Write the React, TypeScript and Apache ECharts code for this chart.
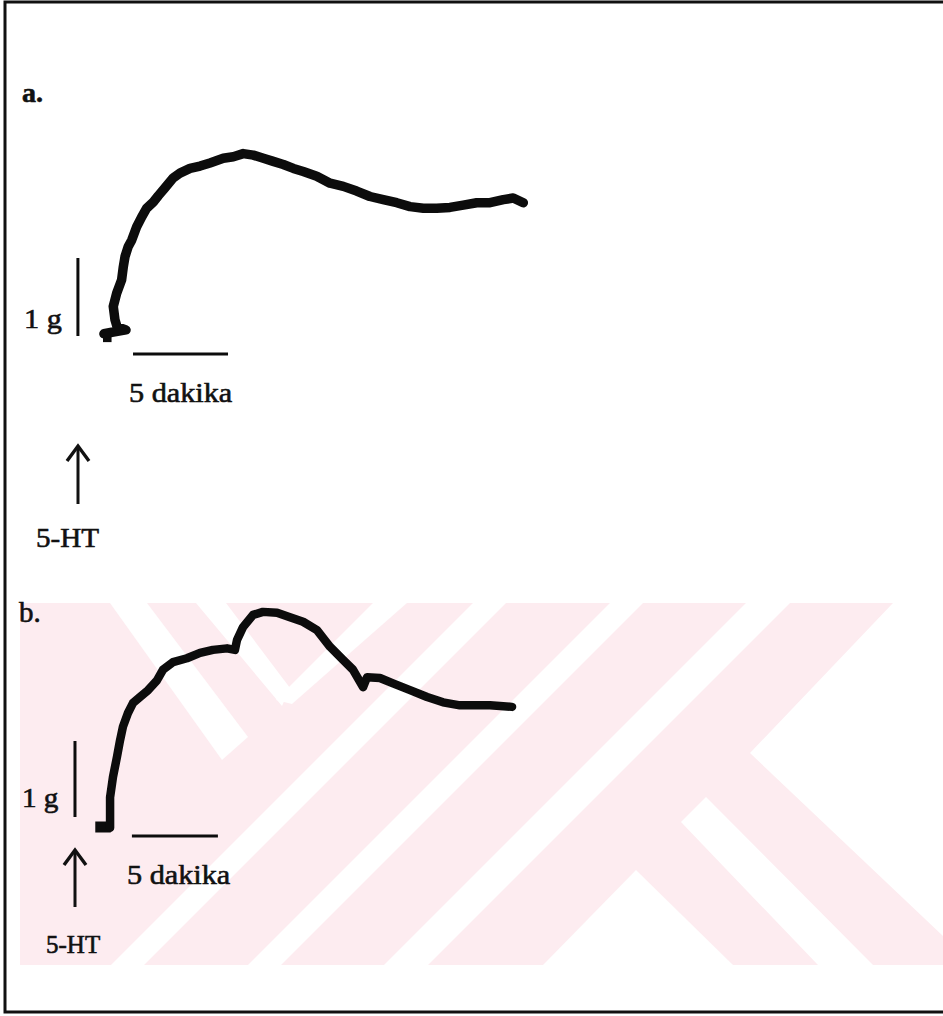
import React, { useEffect, useRef } from "react";
import * as echarts from "echarts";

// Isometric tension recordings after 5-HT: time in minutes, tension in grams.
const traceA_t = [0.05, 0.47, 1.21, 0.74, 0.63, 0.54, 0.72, 0.98, 1.07, 1.16, 1.33, 1.51, 1.77, 2.04, 2.3, 2.65, 2.91, 3.26, 3.7, 4.05, 4.58, 5.11, 5.63, 6.33, 6.86, 7.38, 7.91, 8.44, 8.96, 9.49, 10.02, 10.54, 11.25, 11.95, 12.65, 13.35, 14.05, 14.75, 15.46, 16.16, 16.86, 17.56, 18.26, 18.96, 19.67, 20.37, 21.07, 21.59, 22.12];
const traceA_g = [-0.01, 0.01, 0.04, 0.08, 0.17, 0.34, 0.51, 0.68, 0.85, 0.98, 1.11, 1.19, 1.36, 1.49, 1.6, 1.68, 1.76, 1.86, 1.99, 2.05, 2.11, 2.14, 2.18, 2.24, 2.26, 2.3, 2.28, 2.24, 2.2, 2.16, 2.11, 2.07, 2.01, 1.92, 1.88, 1.82, 1.75, 1.71, 1.67, 1.62, 1.6, 1.6, 1.61, 1.64, 1.67, 1.67, 1.71, 1.73, 1.67];

const traceB_t = [0.76, 0.76, 0.93, 1.16, 1.34, 1.51, 1.8, 2.09, 2.5, 2.97, 3.49, 3.84, 4.42, 5.23, 5.99, 6.74, 7.56, 8.02, 8.14, 8.49, 9.07, 9.65, 10.47, 11.22, 11.98, 12.79, 13.55, 14.3, 14.88, 15.47, 15.7, 16.45, 17.21, 18.2, 19.19, 20.12, 21.1, 22.09, 22.85, 24.13];
const traceB_g = [0.03, 0.43, 0.7, 0.96, 1.18, 1.36, 1.54, 1.67, 1.75, 1.84, 1.97, 2.11, 2.21, 2.26, 2.33, 2.37, 2.39, 2.37, 2.5, 2.67, 2.83, 2.87, 2.86, 2.8, 2.74, 2.63, 2.41, 2.24, 2.11, 1.88, 2.01, 2.0, 1.93, 1.84, 1.75, 1.68, 1.64, 1.64, 1.64, 1.62];

// Baseline blocks at the moment of 5-HT addition
const onsetA_t = [0.0, 0.45];
const onsetA_g = [-0.04, -0.04];
const onsetB_t = [-0.1, 0.8];
const onsetB_g = [0.04, 0.04];

// Calibration bars
const BAR_MIN = 5;
const BAR_G = 1;

const pair = (xs: number[], ys: number[]) => xs.map((x, i) => [x, ys[i]]);

const SERIF = "Liberation Serif";
const PINK = "#fdecf0";
const INK = "#0c0c0c";

export default function App() {
  const ref = useRef<HTMLDivElement>(null);

  useEffect(() => {
    document.body.style.margin = "0";
    const chart = echarts.init(ref.current!, null, { renderer: "svg" });

    const hidden = { show: false };
    const axisX = (gi: number, min: number, max: number) => ({
      type: "value", gridIndex: gi, min, max, show: false, splitLine: hidden,
    });
    const axisY = (gi: number, min: number, max: number) => ({
      type: "value", gridIndex: gi, min, max, show: false, splitLine: hidden,
    });

    const line = (gi: number, data: number[][], width: number, cap = "round") => ({
      type: "line",
      xAxisIndex: gi,
      yAxisIndex: gi,
      data,
      showSymbol: false,
      symbol: "none",
      silent: true,
      lineStyle: { color: INK, width, cap, join: "round" },
      z: 5,
    });

    const text = (t: string, x: number, y: number, size: number, scaleX = 1.08, bold = false) => ({
      type: "text",
      x,
      y,
      scaleX,
      z: 20,
      style: {
        text: t,
        fontFamily: SERIF,
        fontSize: size,
        fontWeight: bold ? "bold" : "normal",
        fill: "#111",
        stroke: "#111",
        lineWidth: 0.6,
        textAlign: "left",
        textVerticalAlign: "middle",
      },
    });

    const arrow = (x: number, top: number, bottom: number) => [
      { type: "line", z: 20, shape: { x1: x, y1: top + 2, x2: x, y2: bottom }, style: { stroke: "#111", lineWidth: 3 } },
      { type: "polyline", z: 20, shape: { points: [[x - 11, top + 16], [x, top + 1], [x + 11, top + 16]] }, style: { stroke: "#111", lineWidth: 3.4, fill: "none" } },
    ];

    const wm = (pts: number[][]) => ({ type: "polygon", z: -10, silent: true, shape: { points: pts }, style: { fill: "#fff" } });

    // Pale diagonal emblem printed behind panel b
    const watermark = [
      { type: "rect", z: -11, silent: true, shape: { x: 20, y: 603, width: 923, height: 362 }, style: { fill: PINK } },
      wm([[110, 603], [147, 603], [248, 737], [222, 760]]),
      wm([[196, 603], [226, 603], [290, 688], [282, 706]]),
      wm([[373, 603], [407, 603], [292, 704], [276, 700]]),
      wm([[473, 603], [506, 603], [144, 965], [111, 965]]),
      wm([[610, 603], [643, 603], [281, 965], [248, 965]]),
      wm([[746, 603], [790, 603], [428, 965], [384, 965]]),
      wm([[893, 603], [943, 603], [943, 936], [750, 753]]),
      wm([[681, 822], [706, 797], [873, 965], [818, 965]]),
      wm([[636, 870], [733, 965], [543, 965]]),
    ];

    chart.setOption({
      animation: false,
      backgroundColor: "#fff",
      grid: [
        { left: 65, top: 138, width: 494, height: 234 },
        { left: 62.6, top: 564, width: 481.6, height: 304 },
      ],
      xAxis: [axisX(0, -2, 24), axisX(1, -2, 26)],
      yAxis: [axisY(0, -0.5, 2.5), axisY(1, -0.5, 3.5)],
      series: [
        line(0, pair(onsetA_t, onsetA_g), 12, "butt"),
        line(0, pair(traceA_t, traceA_g), 9.5),
        line(0, [[-1.32, -0.04], [-1.32, -0.04 + BAR_G]], 3, "butt"),
        line(0, [[1.58, -0.27], [1.58 + BAR_MIN, -0.27]], 3, "butt"),
        line(1, pair(onsetB_t, onsetB_g), 11, "butt"),
        line(1, pair(traceB_t, traceB_g), 8.5),
        line(1, [[-1.28, 0.17], [-1.28, 0.17 + BAR_G]], 3, "butt"),
        line(1, [[2.03, -0.08], [2.03 + BAR_MIN, -0.08]], 3, "butt"),
      ],
      graphic: [
        ...watermark,
        { type: "rect", z: 30, silent: true, shape: { x: 5, y: 2, width: 960, height: 1010 }, style: { fill: "none", stroke: "#111", lineWidth: 3 } },
        text("a.", 22, 92, 28, 1.0, true),
        text("1 g", 24, 318, 28),
        text("5 dakika", 129, 392, 28),
        text("5-HT", 36, 538, 28, 1.04),
        ...arrow(78, 445, 504),
        text("b.", 19, 612, 29, 1.0),
        text("1 g", 22, 798, 27),
        text("5 dakika", 127, 874, 28),
        text("5-HT", 46, 944, 25, 1.0),
        ...arrow(75, 849, 907),
      ],
    });

    return () => chart.dispose();
  }, []);

  return <div ref={ref} style={{ width: 943, height: 1016 }} />;
}
